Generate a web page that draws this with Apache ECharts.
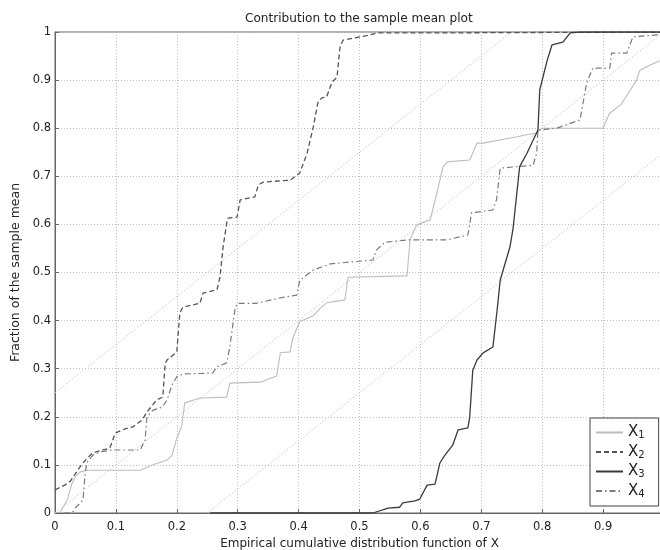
<!DOCTYPE html>
<html>
<head>
<meta charset="utf-8">
<script src="https://cdn.jsdelivr.net/npm/echarts@6/dist/echarts.min.js"></script>
<style>
html,body{margin:0;padding:0;background:#fff;}
#chart{width:660px;height:550px;}
</style>
</head>
<body>
<div id="chart"></div>
<script>
var titleText = "Contribution to the sample mean plot";
var xName = "Empirical cumulative distribution function of X";
var yName = "Fraction of the sample mean";
var seriesNames = ["X1", "X2", "X3", "X4"];
var subscripts = ["1", "2", "3", "4"];

var x1X = [0.008,0.02,0.028,0.033,0.041,0.052,0.14,0.16,0.184,0.192,0.2,0.208,0.213,0.238,0.282,0.287,0.337,0.364,0.37,0.386,0.391,0.402,0.424,0.435,0.446,0.476,0.481,0.578,0.583,0.594,0.616,0.627,0.637,0.644,0.681,0.693,0.703,0.75,0.79,0.80,0.88,0.9,0.91,0.93,0.94,0.955,0.96,0.975,0.993];
var x1Y = [0,0.027,0.062,0.075,0.085,0.089,0.089,0.1,0.11,0.12,0.155,0.18,0.229,0.239,0.241,0.27,0.272,0.285,0.333,0.335,0.366,0.398,0.41,0.425,0.437,0.443,0.49,0.493,0.568,0.599,0.609,0.665,0.719,0.73,0.734,0.769,0.769,0.78,0.79,0.80,0.80,0.80,0.83,0.85,0.87,0.9,0.92,0.93,0.94];

var x2X = [0,0.016,0.025,0.03,0.041,0.052,0.062,0.09,0.099,0.115,0.128,0.143,0.151,0.167,0.177,0.181,0.184,0.2,0.205,0.21,0.238,0.243,0.266,0.271,0.276,0.282,0.284,0.299,0.304,0.328,0.334,0.342,0.386,0.402,0.414,0.424,0.432,0.438,0.446,0.455,0.463,0.468,0.473,0.489,0.517,0.528,0.6,1];
var x2Y = [0.048,0.058,0.066,0.075,0.096,0.113,0.125,0.135,0.166,0.175,0.179,0.193,0.21,0.235,0.241,0.312,0.318,0.335,0.416,0.428,0.436,0.457,0.464,0.491,0.553,0.603,0.613,0.615,0.651,0.657,0.682,0.688,0.692,0.707,0.748,0.802,0.855,0.863,0.865,0.896,0.906,0.969,0.983,0.987,0.994,0.998,0.998,1];

var x3X = [0.255,0.522,0.547,0.566,0.571,0.591,0.599,0.611,0.624,0.632,0.64,0.653,0.662,0.678,0.681,0.686,0.693,0.703,0.719,0.726,0.731,0.747,0.752,0.763,0.775,0.785,0.793,0.796,0.808,0.816,0.834,0.846,0.862,1];
var x3Y = [0,0,0.01,0.012,0.021,0.025,0.029,0.058,0.06,0.104,0.12,0.141,0.173,0.177,0.2,0.297,0.318,0.333,0.345,0.422,0.484,0.553,0.59,0.72,0.748,0.775,0.796,0.88,0.94,0.973,0.979,0.998,1,1];

var x4X = [0.015,0.028,0.033,0.046,0.049,0.052,0.062,0.074,0.095,0.14,0.148,0.151,0.161,0.176,0.184,0.192,0.2,0.21,0.259,0.266,0.282,0.287,0.296,0.3,0.331,0.369,0.397,0.402,0.424,0.452,0.522,0.528,0.542,0.583,0.644,0.678,0.684,0.719,0.725,0.731,0.785,0.791,0.793,0.824,0.846,0.862,0.873,0.883,0.911,0.914,0.939,0.949,1];
var x4Y = [0,0,0.01,0.027,0.075,0.104,0.12,0.127,0.131,0.131,0.152,0.2,0.214,0.22,0.235,0.266,0.283,0.289,0.291,0.304,0.312,0.345,0.428,0.436,0.436,0.447,0.453,0.484,0.505,0.518,0.526,0.547,0.563,0.568,0.568,0.578,0.624,0.63,0.651,0.717,0.723,0.748,0.796,0.8,0.81,0.817,0.894,0.925,0.925,0.956,0.956,0.99,0.995];

var refLow = [[0.25, 0], [1, 0.75]];
var refMid = [[0, 0], [1, 1]];
var refHigh = [[0, 0.25], [0.75, 1]];

var xTicks = [0,0.1,0.2,0.3,0.4,0.5,0.6,0.7,0.8,0.9];
var yTicks = [0,0.1,0.2,0.3,0.4,0.5,0.6,0.7,0.8,0.9,1];

function pairs(xs, ys){ return xs.map(function(v,i){ return [v, ys[i]]; }); }

var FONT = "'DejaVu Sans', 'Liberation Sans', Arial, sans-serif";
var chart = echarts.init(document.getElementById('chart'), null, {renderer:'canvas'});

function refSeries(d){
  return {type:'line', data:d, symbol:'none', silent:true, z:1,
    lineStyle:{color:'#c8c8c8', width:1, type:[1.5,2]}};
}
function dataSeries(name, xs, ys, color, width, type, z){
  return {name:name, type:'line', data:pairs(xs,ys), symbol:'none', z:z, color:color,
    itemStyle:{color:color}, lineStyle:{color:color, width:width, type:type}};
}

chart.setOption({
  animation:false,
  backgroundColor:'#fff',
  textStyle:{fontFamily:FONT},
  title:{text:titleText, left:240, top:8,
    textStyle:{fontSize:12.1, fontWeight:'normal', color:'#222', fontFamily:FONT}},
  grid:{left:55, top:32, bottom:37, right:-4, show:true, borderColor:'#666', borderWidth:1,
    containLabel:false, outerBoundsMode:'none'},
  legend:{
    data:seriesNames, orient:'vertical', left:590, top:418,
    backgroundColor:'#fff', borderColor:'#444', borderWidth:1,
    padding:[7,14,7,5], itemGap:4, itemWidth:27, itemHeight:14,
    itemStyle:{opacity:0},
    formatter:function(n){ var i = seriesNames.indexOf(n); return '{x|X}{s|' + subscripts[i] + '}'; },
    textStyle:{color:'#222', fontFamily:FONT,
      rich:{x:{fontSize:15, lineHeight:16, color:'#222', fontFamily:FONT},
            s:{fontSize:10, lineHeight:5, color:'#222', fontFamily:FONT, verticalAlign:'bottom'}}}
  },
  xAxis:{type:'value', min:0, max:1, interval:0.1,
    name:xName, nameLocation:'middle', nameGap:23,
    nameTextStyle:{fontSize:12, color:'#222', fontFamily:FONT},
    axisLine:{show:true, lineStyle:{color:'#666'}},
    axisTick:{show:true, inside:true, length:4, lineStyle:{color:'#666'}},
    axisLabel:{color:'#222', fontSize:11.5, margin:8, showMaxLabel:false, fontFamily:FONT,
      formatter:function(v){ var r = Math.round(v*10)/10; return xTicks.indexOf(r) >= 0 ? String(r) : ''; }},
    splitLine:{show:true, lineStyle:{color:'#bdbdbd', width:1, type:[1,2]}}
  },
  yAxis:{type:'value', min:0, max:1, interval:0.1,
    name:yName, nameLocation:'middle', nameGap:30,
    nameTextStyle:{fontSize:12.5, color:'#222', fontFamily:FONT},
    axisLine:{show:true, lineStyle:{color:'#666'}},
    axisTick:{show:true, inside:true, length:4, lineStyle:{color:'#666'}},
    axisLabel:{color:'#222', fontSize:11.5, margin:4, fontFamily:FONT,
      formatter:function(v){ var r = Math.round(v*10)/10; return yTicks.indexOf(r) >= 0 ? String(r) : ''; }},
    splitLine:{show:true, lineStyle:{color:'#bdbdbd', width:1, type:[1,2]}}
  },
  series:[
    refSeries(refLow), refSeries(refMid), refSeries(refHigh),
    dataSeries('X1', x1X, x1Y, '#bdbdbd', 1.1, 'solid', 3),
    dataSeries('X2', x2X, x2Y, '#555555', 1.3, [5,3], 4),
    dataSeries('X3', x3X, x3Y, '#3a3a3a', 1.3, 'solid', 5),
    dataSeries('X4', x4X, x4Y, '#7a7a7a', 1.2, [6,3,1.5,3], 4)
  ]
});
</script>
</body>
</html>
